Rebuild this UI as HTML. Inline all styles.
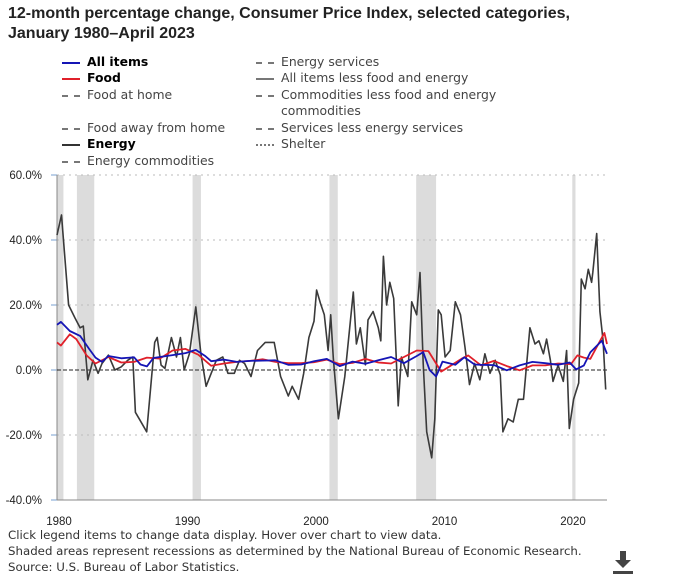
<!DOCTYPE html>
<html><head><meta charset="utf-8">
<style>
body{margin:0;width:680px;height:581px;background:#fff;font-family:"Liberation Sans",sans-serif;position:relative;overflow:hidden}
.t{position:absolute;left:8px;top:4px;font-size:16px;font-weight:bold;color:#222;line-height:20px}
.lg{position:absolute;font-family:"DejaVu Sans",sans-serif;font-size:12.4px;color:#444;line-height:16px}
.lg span.k{display:inline-block;width:18px;margin-right:7px;vertical-align:middle}
.foot{position:absolute;left:8px;top:527px;font-family:"DejaVu Sans",sans-serif;font-size:11.8px;color:#333;line-height:16px}
</style></head><body>
<div class="t">12-month percentage change, Consumer Price Index, selected categories,<br>January 1980–April 2023</div>
<div class="lg" style="left:62px;top:54px;color:#000"><span class="k" style="border-top:2px solid #1515b5"></span><b>All items</b></div>
<div class="lg" style="left:62px;top:70px;color:#000"><span class="k" style="border-top:2px solid #e0202a"></span><b>Food</b></div>
<div class="lg" style="left:62px;top:87px"><span class="k" style="border-top:2px dashed #777"></span>Food at home</div>
<div class="lg" style="left:62px;top:120px"><span class="k" style="border-top:2px dashed #777"></span>Food away from home</div>
<div class="lg" style="left:62px;top:136px;color:#000"><span class="k" style="border-top:2px solid #333"></span><b>Energy</b></div>
<div class="lg" style="left:62px;top:153px"><span class="k" style="border-top:2px dashed #777"></span>Energy commodities</div>
<div class="lg" style="left:256px;top:54px"><span class="k" style="border-top:2px dashed #777"></span>Energy services</div>
<div class="lg" style="left:256px;top:70px"><span class="k" style="border-top:2px solid #777"></span>All items less food and energy</div>
<div class="lg" style="left:256px;top:87px"><span class="k" style="border-top:2px dashed #777"></span>Commodities less food and energy<br><span style="margin-left:25px">commodities</span></div>
<div class="lg" style="left:256px;top:120px"><span class="k" style="border-top:2px dashed #777"></span>Services less energy services</div>
<div class="lg" style="left:256px;top:136px"><span class="k" style="border-top:2px dotted #777"></span>Shelter</div>
<svg id="c" width="680" height="581" style="position:absolute;left:0;top:0"></svg>
<div class="foot">Click legend items to change data display. Hover over chart to view data.<br>Shaded areas represent recessions as determined by the National Bureau of Economic Research.<br>Source: U.S. Bureau of Labor Statistics.</div>
<div style="position:absolute;left:612px;top:549px;width:22px;height:26px">
<svg width="22" height="26"><path d="M8 2h6v9h5l-8 8-8-8h5z" fill="#444"/><rect x="1" y="22" width="20" height="3" fill="#444"/></svg></div>
<script>
const yTicks=[60,40,20,0,-20,-40];
const xTicks=[1980,1990,2000,2010,2020];
const recessions=[[1980.0,1980.5],[1981.55,1982.9],[1990.55,1991.2],[2001.2,2001.85],[2007.95,2009.5],[2020.1,2020.35]];
const energyYears=[1980,1980.35,1980.9,1981.4,1981.8,1982.05,1982.4,1982.8,1983.2,1983.5,1984,1984.5,1985,1985.5,1985.9,1986.1,1986.4,1986.98,1987.6,1987.8,1988.1,1988.4,1988.9,1989.3,1989.6,1989.9,1990.3,1990.8,1991.2,1991.6,1992,1992.4,1992.9,1993.3,1993.8,1994.2,1994.6,1995.1,1995.6,1996.2,1996.9,1997.4,1998,1998.3,1998.8,1999.2,1999.6,2000,2000.2,2000.5,2000.8,2001.1,2001.3,2001.5,2001.9,2002.4,2003.06,2003.3,2003.6,2004,2004.2,2004.6,2005,2005.2,2005.4,2005.65,2005.9,2006.2,2006.4,2006.55,2006.8,2007.3,2007.6,2007.99,2008.25,2008.5,2008.77,2009.16,2009.4,2009.67,2009.9,2010.2,2010.6,2011,2011.4,2011.75,2012.1,2012.5,2012.9,2013.3,2013.7,2014.1,2014.5,2014.7,2015.1,2015.5,2015.9,2016.3,2016.55,2016.8,2017.2,2017.5,2017.85,2018.1,2018.4,2018.6,2019,2019.4,2019.66,2019.87,2020.2,2020.6,2020.8,2021.1,2021.35,2021.6,2021.7,2022,2022.25,2022.5,2022.7];
const energyVals=[41.5,47.7,20,16,13,13.5,-3,3,-1,2,4.6,0,1,3,4,-13,-15,-19,8.5,10,1.5,0.5,10,4,10,0,5,19.4,5,-5,-1,3,4,-1,-1,3,2,-2,6,8.5,8.5,-2,-8,-5,-9,-1,10,15,24.6,20.6,17,6,17,3.7,-15,-2,24,8,13,1.6,15.4,18,13,9,35,20,27,22,4,-11,4,-2,21,17,30,2,-19,-27,-15,18.5,17,4,6,21,17,7,-4.5,2,-3,5,-1,3,-1.5,-19,-15,-16,-9,-9,2,13,8,9,5,9.5,3,-3.5,1.5,-3.5,6,-18,-9,-4,28,25,31,27,30,42,18,9,-6];
const allYears=[1980,1980.3,1981,1981.8,1982.5,1983,1983.5,1984,1985,1986,1986.5,1987,1987.5,1988,1989,1990,1990.8,1991.5,1992,1993,1994,1995,1996,1997,1998,1999,2000,2001,2002,2003,2004,2005,2006,2007,2008,2008.5,2009,2009.5,2010,2011,2011.7,2012.5,2013,2014,2015,2016,2017,2018,2019,2019.9,2020.4,2021,2021.5,2022.4,2022.8];
const allVals=[13.9,14.8,12,10.5,6.5,3.8,2.5,4.3,3.6,3.9,1.7,1.1,3.7,4.0,4.6,5.2,6.2,4.4,2.7,3.2,2.5,2.8,2.9,3.0,1.6,1.7,2.7,3.4,1.2,2.6,1.9,3.0,4.0,2.1,4.3,5.5,0,-2,2.6,1.6,3.9,1.7,1.6,1.5,-0.1,1.4,2.5,2.1,1.6,2.3,0.2,1.4,5.4,9.0,5.0];
const foodYears=[1980,1980.3,1981,1981.5,1982.3,1983,1984,1985,1986,1987,1988,1989,1990,1991,1992,1993,1994,1995,1996,1997,1998,1999,2000,2001,2002,2003,2004,2005,2006,2007,2008,2008.9,2009.9,2010.5,2011.5,2012,2013,2014,2015,2016,2017,2018,2019,2020,2020.5,2021,2021.5,2021.9,2022.6,2022.8];
const foodVals=[8.5,7.5,11,9.5,4.5,2,4,2.3,2.5,3.8,3.5,6,6.5,4.7,1.3,2,2.5,2.8,3.3,2.5,2.1,2.1,2.4,3.2,1.8,2.2,3.4,2.3,2,4,6,5.8,-0.5,1,3.5,4.5,1.4,2.8,1.2,-0.1,1.4,1.4,2,1.8,4.5,3.8,3.4,6.3,11.4,8.0];
const X0=57,X1=607,Y0=175,Y1=500;
const x=v=>X0+(v-1980)*12.85;
const y=v=>Y0+(60-v)*(Y1-Y0)/100;
const svg=document.getElementById('c');const NS='http://www.w3.org/2000/svg';
function mk(t,a){const e=document.createElementNS(NS,t);for(const k in a)e.setAttribute(k,a[k]);svg.appendChild(e);return e;}
recessions.forEach(r=>{const e=mk('rect',{x:x(r[0]),y:Y0,width:Math.max(3,x(r[1])-x(r[0])),height:Y1-Y0,fill:'#dcdcdc'});

});
yTicks.forEach(t=>{const g=mk('line',{x1:X0,x2:X1,y1:y(t),y2:y(t),stroke:'#bbb','stroke-dasharray':'2,4'});


const tk=mk('line',{x1:X0-6,x2:X0,y1:y(t),y2:y(t),stroke:'#7aa0d0'});


const l=mk('text',{x:X0-15,y:y(t)+4,'text-anchor':'end','font-size':'11.5',fill:'#222'});l.textContent=t.toFixed(1)+'%';

});
xTicks.forEach(t=>{const l=mk('text',{x:x(t)+2,y:525,'text-anchor':'middle','font-size':'11.5',fill:'#222'});l.textContent=t;

});
const ax=mk('line',{x1:X0,x2:X0,y1:Y0,y2:Y1,stroke:'#888'});


const bx=mk('line',{x1:X0,x2:X1,y1:Y1,y2:Y1,stroke:'#888'});


const z=mk('line',{x1:X0,x2:X1,y1:y(0),y2:y(0),stroke:'#222','stroke-dasharray':'4,2'});


function line(xs,vs,col,w,name){const p=mk('path',{d:xs.map((v,i)=>(i?'L':'M')+x(v).toFixed(1)+','+y(vs[i]).toFixed(1)).join(''),fill:'none',stroke:col,'stroke-width':w,'stroke-linejoin':'round'});

}
line(energyYears,energyVals,'#3a3a3a',1.6,'energy-line');
line(foodYears,foodVals,'#e0202a',1.8,'food-line');
line(allYears,allVals,'#1515b5',1.8,'all-items-line');
</script>
</body></html>
